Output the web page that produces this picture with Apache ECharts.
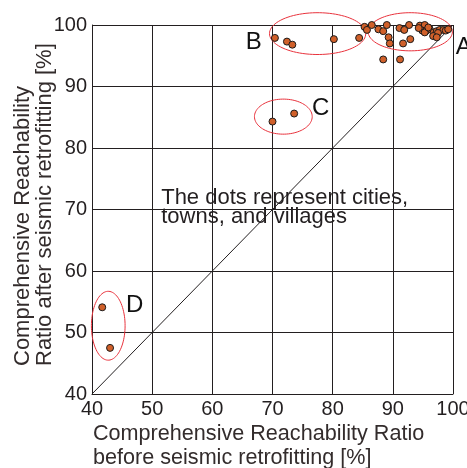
<!DOCTYPE html>
<html><head><meta charset="utf-8">
<script src="https://cdn.jsdelivr.net/npm/echarts@6/dist/echarts.min.js"></script>
<style>html,body{margin:0;padding:0;background:#fff}#c{width:467px;height:468px}</style>
</head><body><div id="c"></div>
<script>
// Data: [before %, after %]
const groupD = [[41.7, 54.1], [43.0, 47.5]];
const groupC = [[70.0, 84.3], [73.6, 85.6]];
const groupB = [[70.4, 97.9], [72.4, 97.3], [73.3, 96.8], [80.2, 97.7], [84.4, 97.9]];
const groupA = [
  [85.3, 99.7], [85.7, 99.2], [86.5, 100.0], [87.6, 99.3], [88.4, 99.0], [89.0, 100.0],
  [89.3, 98.0], [89.5, 97.0], [91.7, 97.0], [92.9, 97.7], [92.7, 100.0], [91.1, 99.5],
  [91.9, 99.2], [88.4, 94.4], [91.2, 94.4], [94.5, 99.9], [95.3, 100.0], [94.9, 99.1],
  [95.6, 99.1], [96.1, 99.4], [95.3, 98.8], [96.8, 98.8], [97.3, 99.0], [97.8, 99.2],
  [98.4, 99.2], [97.5, 98.7], [96.7, 98.2], [97.3, 98.0], [98.8, 99.1], [99.2, 99.3],
  [95.9, 99.6], [94.3, 99.5]
];
const diagonal = [[40, 40], [100, 100]];
// Ellipse annotations: [centerX, centerY, radiusX, radiusY] in data units
const ellipses = [[92.9, 98.9, 7.0, 3.1], [77.5, 98.6, 8.0, 3.4], [71.8, 85.1, 4.8, 2.85], [42.7, 51.1, 2.8, 5.6]];
// Group labels: [x, y, text]
const groupLabels = [[101.8, 96.4, 'A'], [66.9, 97.1, 'B'], [78.0, 86.4, 'C'], [47.1, 54.4, 'D']];
const noteText = 'The dots represent cities,\ntowns, and villages';
const notePos = [51.5, 73.5];
const xTicks = [40, 50, 60, 70, 80, 90, 100];
const yTicks = [40, 50, 60, 70, 80, 90, 100];

const allPoints = groupA.concat(groupB, groupC, groupD);
const ink = '#231f20';
const chart = echarts.init(document.getElementById('c'));
chart.setOption({
  animation: false,
  grid: {left: 92, right: 14, top: 25, bottom: 74, containLabel: false, outerBoundsMode: 'none'},
  xAxis: {
    type: 'value', min: xTicks[0], max: xTicks[xTicks.length - 1], interval: 10,
    name: 'Comprehensive Reachability Ratio\nbefore seismic retrofitting [%]',
    nameLocation: 'start', nameGap: -1, nameMoveOverlap: false,
    nameTextStyle: {align: 'left', verticalAlign: 'top', fontFamily: 'Liberation Sans', fontSize: 21.6, color: '#332c2c', lineHeight: 24, padding: [28, 0, 0, 0]},
    axisLine: {show: true, lineStyle: {color: ink, width: 1}},
    axisTick: {show: false},
    axisLabel: {fontFamily: 'Liberation Sans', fontSize: 20, color: ink, margin: 5, showMinLabel: true, showMaxLabel: true, hideOverlap: false},
    splitLine: {show: true, lineStyle: {color: ink, width: 1}}
  },
  yAxis: {
    type: 'value', min: yTicks[0], max: yTicks[yTicks.length - 1], interval: 10,
    name: 'Comprehensive Reachability\nRatio after seismic retrofitting [%]',
    nameLocation: 'start', nameGap: -28, nameRotate: 90, nameMoveOverlap: false,
    nameTextStyle: {align: 'left', verticalAlign: 'bottom', fontFamily: 'Liberation Sans', fontSize: 22, color: '#332c2c', lineHeight: 22, padding: [0, 0, 36, 0]},
    axisLine: {show: true, lineStyle: {color: ink, width: 1}},
    axisTick: {show: false},
    axisLabel: {fontFamily: 'Liberation Sans', fontSize: 20, color: ink, margin: 5, showMinLabel: true, showMaxLabel: true, hideOverlap: false},
    splitLine: {show: true, lineStyle: {color: ink, width: 1}}
  },
  series: [
    {type: 'line', data: diagonal, symbol: 'none', lineStyle: {color: ink, width: 1}, silent: true, z: 2},
    {type: 'custom', data: ellipses, clip: false, z: 3, silent: true,
      renderItem: function (params, api) {
        const cx = api.value(0), cy = api.value(1), rx = api.value(2), ry = api.value(3);
        const pts = [];
        for (let i = 0; i < 90; i++) {
          const t = i / 90 * Math.PI * 2;
          pts.push(api.coord([cx + rx * Math.cos(t), cy + ry * Math.sin(t)]));
        }
        return {type: 'polygon', shape: {points: pts}, style: {fill: 'none', stroke: '#e8323c', lineWidth: 1}};
      }
    },
    {type: 'scatter', data: allPoints, symbol: 'circle', symbolSize: 7, z: 4,
      itemStyle: {color: '#d0602a', borderColor: '#1a1a1a', borderWidth: 1, opacity: 1}},
    {type: 'custom', data: groupLabels, clip: false, z: 5, silent: true,
      renderItem: function (params, api) {
        const p = api.coord([api.value(0), api.value(1)]);
        return {type: 'text', x: p[0], y: p[1], style: {text: groupLabels[params.dataIndex][2], fill: '#111', font: '24px "Liberation Sans"', align: 'center', verticalAlign: 'middle'}};
      }
    },
    {type: 'custom', data: [notePos], clip: false, z: 5, silent: true,
      renderItem: function (params, api) {
        const p = api.coord([api.value(0), api.value(1)]);
        return {type: 'text', x: p[0], y: p[1], style: {text: noteText, fill: ink, font: '22px "Liberation Sans"', lineHeight: 19, align: 'left', verticalAlign: 'top'}};
      }
    }
  ]
});
</script></body></html>
